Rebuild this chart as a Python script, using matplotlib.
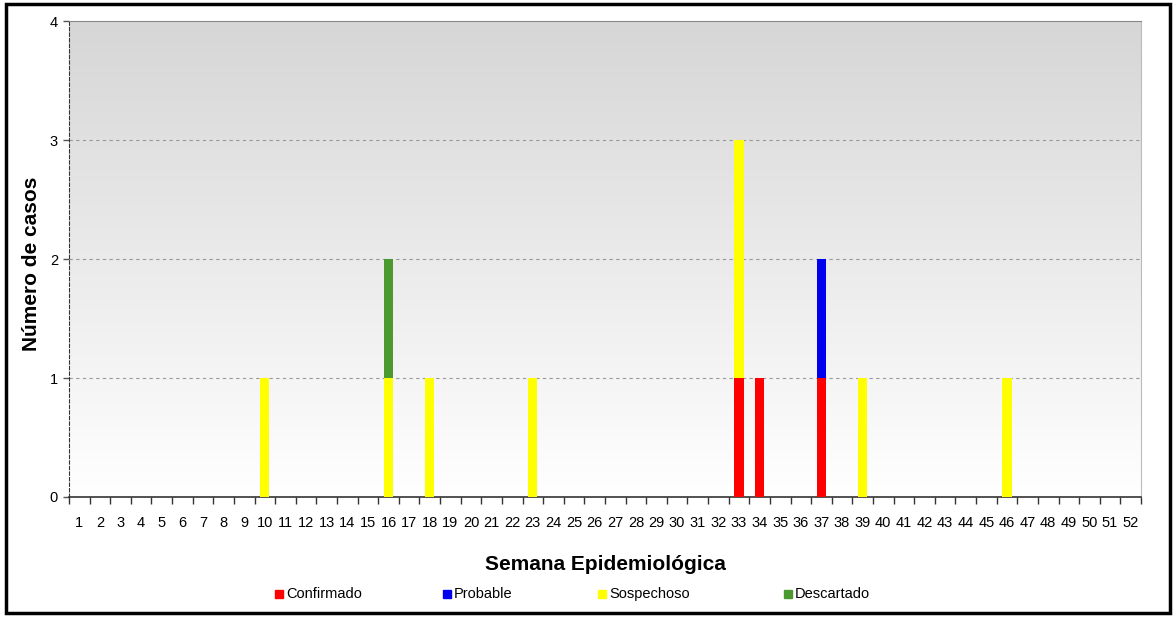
import numpy as np
import matplotlib
matplotlib.use("Agg")
import matplotlib.pyplot as plt
from matplotlib.patches import Rectangle

plt.rcParams["font.family"] = ["Liberation Sans", "DejaVu Sans"]

# weeks 1..52
weeks = list(range(1, 53))

# cases per week, by classification
confirmado = {33: 1, 34: 1, 37: 1}
probable = {37: 1}
sospechoso = {10: 1, 16: 1, 18: 1, 23: 1, 33: 2, 39: 1, 46: 1}
descartado = {16: 1}

series_names = ["Confirmado", "Probable", "Sospechoso", "Descartado"]
series_data = [confirmado, probable, sospechoso, descartado]
series_colors = ["#ff0000", "#0000ee", "#ffff00", "#4a9a30"]

y_ticks = [0, 1, 2, 3, 4]

fig = plt.figure(figsize=(11.76, 6.18), dpi=100)
ax = fig.add_axes([69 / 1176, 1 - 497 / 618, (1141 - 69) / 1176, (497 - 21) / 618])

# gradient background (grey at top -> white at bottom)
grad = np.linspace(0, 1, 256).reshape(-1, 1)
top = np.array([0.84, 0.84, 0.84])
bot = np.array([1.0, 1.0, 1.0])
img = top[None, None, :] * (1 - grad[:, :, None]) + bot[None, None, :] * grad[:, :, None]
ax.imshow(img, extent=[0, 1, 0, 1], transform=ax.transAxes, aspect="auto", zorder=0)

for y in [1, 2, 3]:
    ax.axhline(y, color="#999999", linestyle=(0, (3, 3)), linewidth=0.8, zorder=1)

bottom = np.zeros(len(weeks))
for name, data, color in zip(series_names, series_data, series_colors):
    vals = np.array([data.get(w, 0) for w in weeks], dtype=float)
    ax.bar(weeks, vals, width=0.45, bottom=bottom, color=color, zorder=3)
    bottom += vals

ax.set_xlim(0.5, 52.5)
ax.set_ylim(0, 4)
ax.set_xticks(weeks)
ax.set_xticklabels([str(w) for w in weeks], fontsize=10.5)
ax.set_xticks(np.arange(0.5, 53, 1), minor=True)
ax.tick_params(axis="x", which="major", length=0, pad=14)
ax.tick_params(axis="x", which="minor", length=5, width=1, color="#333333", direction="out")
ax.set_yticks(y_ticks)
ax.set_yticklabels([str(v) for v in y_ticks], fontsize=10.5)
ax.tick_params(axis="y", length=4, width=1, color="#555555", pad=4)

ax.spines["left"].set_linestyle((0, (3, 2)))
ax.spines["left"].set_color("#333333")
ax.spines["bottom"].set_color("#333333")
ax.spines["bottom"].set_linewidth(1.2)
ax.spines["top"].set_color("#888888")
ax.spines["right"].set_color("#bbbbbb")

fig.text(32 / 1176, 1 - 264 / 618, "Número de casos", fontsize=15, fontweight="bold",
         rotation=90, ha="center", va="center")
fig.text(0.5 * (69 + 1141) / 1176, 1 - 565 / 618, "Semana Epidemiológica",
         fontsize=15, fontweight="bold", ha="center", va="center")

# legend, placed by hand to match the original spacing
legend_x = [275, 443, 598, 784]
ly = 594
for name, color, lx in zip(series_names, series_colors, legend_x):
    fig.patches.append(Rectangle((lx / 1176, 1 - (ly + 4) / 618), 8 / 1176, 8 / 618,
                                 transform=fig.transFigure, color=color, figure=fig))
    fig.text((lx + 11) / 1176, 1 - ly / 618, name, fontsize=10.5, ha="left", va="center")

# outer frame
fig.patches.append(Rectangle((6 / 1176, 5 / 618), 1 - 12 / 1176, 1 - 9 / 618,
                             transform=fig.transFigure, fill=False, edgecolor="black",
                             linewidth=2.5, figure=fig))

fig.savefig("out.png", dpi=100, facecolor="white")
